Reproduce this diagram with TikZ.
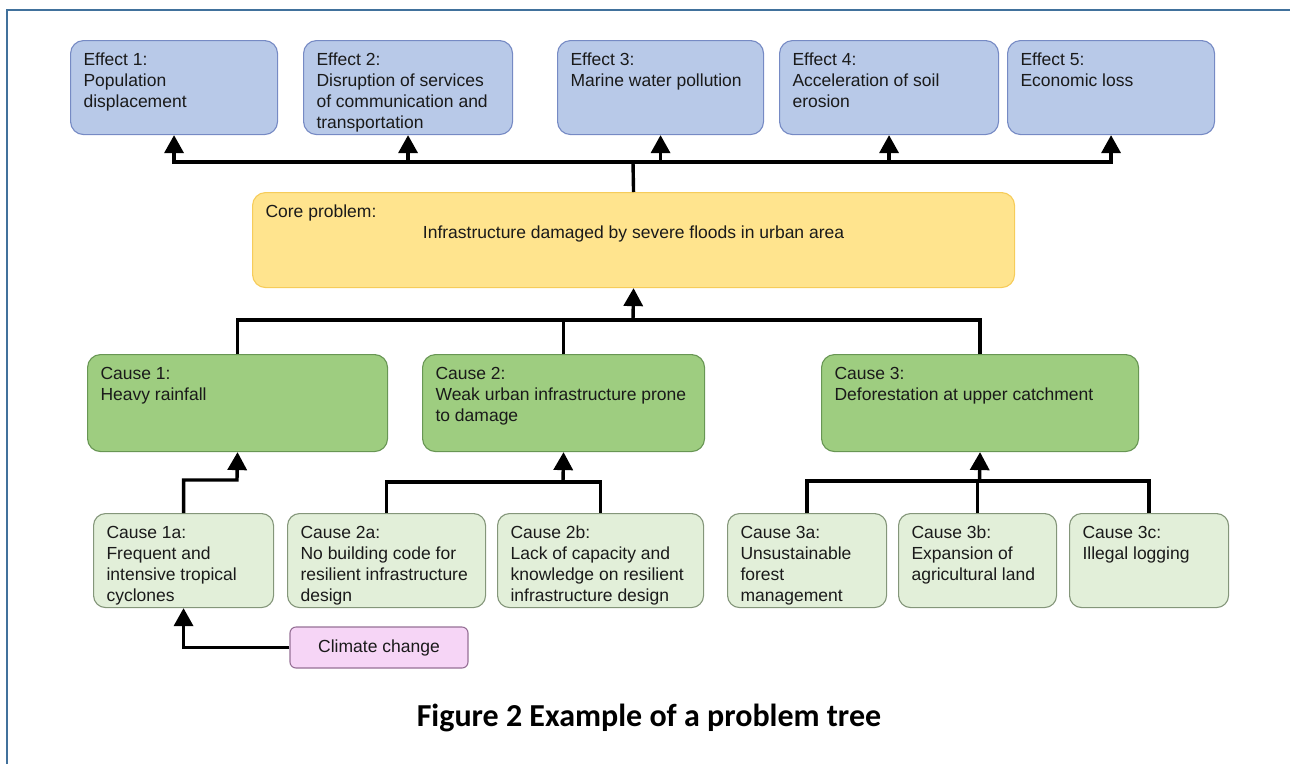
\documentclass[tikz,border=0pt]{standalone}
\usepackage{fontspec}
\setmainfont{Liberation Sans}
\newfontfamily\capfont{Carlito}
\usetikzlibrary{arrows.meta}
\definecolor{effFill}{RGB}{184,201,232}
\definecolor{effDraw}{RGB}{118,138,196}
\definecolor{coreFill}{RGB}{255,228,142}
\definecolor{coreDraw}{RGB}{246,204,90}
\definecolor{causeFill}{RGB}{158,205,128}
\definecolor{causeDraw}{RGB}{104,150,84}
\definecolor{subFill}{RGB}{226,239,217}
\definecolor{subDraw}{RGB}{132,150,122}
\definecolor{ccFill}{RGB}{246,213,246}
\definecolor{ccDraw}{RGB}{150,112,150}
\definecolor{frameCol}{RGB}{65,113,156}
\definecolor{txt}{RGB}{26,26,26}
\newcommand\tbox[7]{%
  \node[#2] (#1) at (#3,#4) {\parbox[c][\dimexpr #6pt-#4pt-21pt\relax][t]{\dimexpr #5pt-#3pt-26pt\relax}{\begin{tabular}[t]{@{}l@{}}#7\end{tabular}}};}
\tikzset{
  box/.style={anchor=north west, rounded corners=13pt, line width=1.1pt, inner xsep=13pt, inner ysep=10.5pt, font=\fontsize{17.5}{21}\selectfont, text=txt},
  effbox/.style={box, fill=effFill, draw=effDraw},
  corebox/.style={box, fill=coreFill, draw=coreDraw},
  causebox/.style={box, fill=causeFill, draw=causeDraw},
  subbox/.style={box, fill=subFill, draw=subDraw, rounded corners=12pt},
  ccbox/.style={rounded corners=6pt, line width=1.1pt, fill=ccFill, draw=ccDraw, font=\fontsize{17.5}{21}\selectfont, text=txt, inner sep=0pt},
  ln/.style={line width=3.4pt, black},
  arr/.style={ln, -{Triangle[width=19pt,length=18pt]}},
  frame/.style={line width=2pt, frameCol}
}
\begin{document}
\begin{tikzpicture}[x=1pt,y=-1pt]
\useasboundingbox (0,0) rectangle (1290,764);
\draw[frame] (7,764) -- (7,10) -- (1290,10);
% effects
\tbox{e1}{effbox}{70}{40}{277}{134}{Effect 1:\\Population\\displacement}
\tbox{e2}{effbox}{303}{40}{512}{134}{Effect 2:\\Disruption of services\\of communication and\\transportation}
\tbox{e3}{effbox}{557}{40}{763}{134}{Effect 3:\\Marine water pollution}
\tbox{e4}{effbox}{779}{40}{998}{134}{Effect 4:\\Acceleration of soil\\erosion}
\tbox{e5}{effbox}{1007}{40}{1214}{134}{Effect 5:\\Economic loss}
% core
\node[corebox] (core) at (252,192) {\parbox[c][74pt][t]{736pt}{\strut Core problem:\par\centering\strut Infrastructure damaged by severe floods in urban area\par}};
% causes
\tbox{c1}{causebox}{87}{354}{387}{451}{Cause 1:\\Heavy rainfall}
\tbox{c2}{causebox}{422}{354}{704}{451}{Cause 2:\\Weak urban infrastructure prone\\to damage}
\tbox{c3}{causebox}{821}{354}{1138}{451}{Cause 3:\\Deforestation at upper catchment}
% sub causes
\tbox{c1a}{subbox}{93}{513}{273}{607}{Cause 1a:\\Frequent and\\intensive tropical\\cyclones}
\tbox{c2a}{subbox}{287}{513}{485}{607}{Cause 2a:\\No building code for\\resilient infrastructure\\design}
\tbox{c2b}{subbox}{497}{513}{703}{607}{Cause 2b:\\Lack of capacity and\\knowledge on resilient\\infrastructure design}
\tbox{c3a}{subbox}{727}{513}{886}{607}{Cause 3a:\\Unsustainable\\forest\\management}
\tbox{c3b}{subbox}{898}{513}{1056}{607}{Cause 3b:\\Expansion of\\agricultural land}
\tbox{c3c}{subbox}{1069}{513}{1228}{607}{Cause 3c:\\Illegal logging}
\node[ccbox, minimum width=178pt, minimum height=41pt] (cc) at (379,647.5) {Climate change};
% connectors
\coordinate (top) at (633,162);
\draw[ln] (core.north) -- (top);
\foreach \e in {e1,e2,e3,e4,e5} \draw[arr] (top) -| (\e.south);
\coordinate (mid) at (633,320);
\foreach \c in {c1,c2,c3} \draw[ln] (\c.north) |- (mid);
\draw[arr] (mid) -- (core.south);
\coordinate (j1) at (237,480);
\draw[arr] (c1a.north) |- (j1) -- (c1.south);
\coordinate (j2) at (563,482);
\draw[ln] (c2a.north) |- (c2b.north |- j2) -- (c2b.north);
\draw[arr] (j2) -- (c2.south);
\coordinate (j3) at (979.5,481);
\draw[ln] (c3a.north) |- (c3c.north |- j3) -- (c3c.north);
\draw[ln] (c3b.north) -- (c3b.north |- j3);
\draw[arr] (j3) -- (c3.south);
\draw[arr] (cc.west) -| (c1a.south);
\node[font=\capfont\bfseries\fontsize{32}{36}\selectfont, text=black] (cap) at (649,718) {Figure 2 Example of a problem tree};
\end{tikzpicture}
\end{document}
